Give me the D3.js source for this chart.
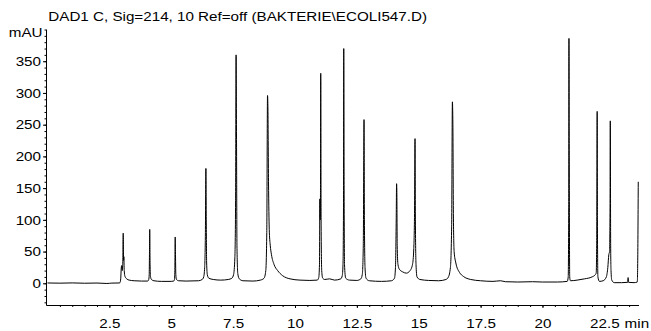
<html>
<head>
<meta charset="UTF-8">
<title>DAD1 C chromatogram</title>
<script src="https://cdn.jsdelivr.net/npm/d3@7/dist/d3.min.js"></script>
<style>
  body { margin: 0; background: #fff; }
  text { font-family: "Liberation Sans", Arial, Helvetica, sans-serif; fill: #000; }
</style>
</head>
<body>
<svg id="chart" width="651" height="331"></svg>
<script>
//-----------------------------------------
// data: [retention time (min), signal (mAU)]
var title = "DAD1 C, Sig=214, 10 Ref=off (BAKTERIE\\ECOLI547.D)";
var yUnit = "mAU";
var xUnit = "min";
var xTicks = [2.5, 5, 7.5, 10, 12.5, 15, 17.5, 20, 22.5];
var yTicks = [0, 50, 100, 150, 200, 250, 300, 350];

var trace = [
    [0.00, 0.5], [0.5, 0.2], [1.0, 0.6], [1.5, 0.1], [2.0, 0.4], [2.4, -0.3], [2.6, 0.3], [2.9, 0.5],
    [2.93, 1], [2.96, 8], [2.98, 24], [3.0, 28], [3.02, 20], [3.04, 30], [3.06, 79], [3.075, 36], [3.085, 42],
    [3.1, 20], [3.13, 11], [3.2, 7], [3.3, 5], [3.5, 4], [3.8, 3.5], [4.05, 3.5],
    [4.09, 6], [4.11, 14], [4.12, 45], [4.13, 85], [4.145, 30], [4.16, 11], [4.2, 6], [4.3, 4], [4.6, 3], [5.0, 3], [5.1, 3.5],
    [5.13, 6], [5.145, 20], [5.16, 73], [5.17, 50], [5.185, 14], [5.21, 6], [5.3, 4], [5.6, 3.5], [6.1, 4], [6.25, 6],
    [6.31, 10], [6.35, 25], [6.38, 80], [6.40, 181], [6.415, 100], [6.43, 32], [6.46, 13], [6.52, 8], [6.7, 6], [7.0, 5], [7.3, 6], [7.45, 8],
    [7.52, 14], [7.57, 40], [7.60, 130], [7.62, 360], [7.635, 250], [7.655, 60], [7.69, 15], [7.75, 7], [7.9, 4], [8.3, 3.5], [8.6, 5], [8.75, 8],
    [8.82, 20], [8.86, 80], [8.89, 296], [8.905, 280], [8.93, 160], [8.96, 85], [9.0, 60], [9.05, 45], [9.15, 30], [9.3, 20], [9.5, 12],
    [9.8, 7], [10.2, 5], [10.6, 4.5], [10.9, 5],
    [10.96, 9], [10.99, 30], [11.005, 133], [11.02, 100], [11.03, 140], [11.04, 331], [11.055, 100], [11.08, 20], [11.12, 8],
    [11.2, 6], [11.4, 7], [11.6, 5], [11.85, 7],
    [11.91, 12], [11.94, 30], [11.96, 120], [11.97, 370], [11.985, 150], [12.0, 30], [12.05, 8], [12.2, 5], [12.5, 4.5], [12.66, 7],
    [12.72, 14], [12.76, 60], [12.79, 258], [12.805, 100], [12.83, 25], [12.87, 8], [13.0, 4], [13.5, 3], [13.9, 4],
    [14.02, 8], [14.06, 25], [14.09, 100], [14.105, 157], [14.115, 146], [14.13, 60], [14.16, 30], [14.22, 22], [14.35, 18],
    [14.5, 16], [14.65, 20], [14.75, 30],
    [14.8, 55], [14.83, 110], [14.85, 228], [14.865, 100], [14.89, 30], [14.93, 10], [15.05, 6], [15.4, 4.5], [15.8, 4], [16.1, 6], [16.2, 10],
    [16.28, 25], [16.33, 90], [16.36, 286], [16.38, 250], [16.40, 110], [16.43, 50], [16.5, 32], [16.65, 17], [16.8, 11], [17.1, 6],
    [17.5, 4], [18.0, 3], [18.3, 4], [18.5, 2.5], [19.0, 2], [19.6, 2.5], [20.0, 2], [20.6, 2], [21.0, 3],
    [21.04, 10], [21.06, 120], [21.07, 386], [21.08, 220], [21.1, 10], [21.13, 4], [21.4, 5], [21.7, 7], [22.0, 10], [22.12, 13],
    [22.17, 16], [22.19, 60], [22.21, 271], [22.22, 100], [22.24, 10], [22.3, 3], [22.45, 4], [22.58, 10], [22.64, 25], [22.68, 45], [22.71, 50],
    [22.73, 120], [22.74, 256], [22.755, 60], [22.77, 20], [22.8, 5], [22.9, 1], [23.2, 1], [23.44, 1.5], [23.46, 9], [23.48, 1.5],
    [23.7, 1], [23.83, 2],
    [23.85, 40], [23.87, 160]
];

//-----------------------------------------
var svg = d3.select("#chart");
var sx = 1.17;   // the original glyphs are wider than Liberation Sans

var x = d3.scaleLinear().domain([0, 23.9]).range([47.5, 639]);
var y = d3.scaleLinear().domain([-35, 400]).range([305.5, 29.5]);

function asIs(d) {
    return String(d);
}

// minor ticks
svg.append("g")
        .attr("transform", "translate(46,0)")
        .call(d3.axisLeft(y).tickValues(d3.range(-30, 401, 10)).tickFormat("").tickSize(1.5))
        .call(function (g) { g.select(".domain").remove(); });
svg.append("g")
        .attr("transform", "translate(0,305)")
        .call(d3.axisBottom(x).tickValues(d3.range(0.5, 23.9, 0.5)).tickFormat("").tickSize(2))
        .call(function (g) { g.select(".domain").remove(); });

// major ticks + labels
var yAxis = svg.append("g")
        .attr("transform", "translate(46,0)")
        .call(d3.axisLeft(y).tickValues(yTicks).tickFormat(asIs).tickSize(3).tickPadding(2))
        .call(function (g) { g.select(".domain").remove(); });
yAxis.selectAll("text")
        .attr("font-size", 13).attr("font-family", null)
        .attr("x", -5 / sx)
        .attr("transform", "scale(" + sx + ",1)");

var xAxis = svg.append("g")
        .attr("transform", "translate(0,305)")
        .call(d3.axisBottom(x).tickValues(xTicks).tickFormat(asIs).tickSize(3))
        .call(function (g) { g.select(".domain").remove(); });
xAxis.selectAll("text")
        .attr("font-size", 13).attr("font-family", null)
        .attr("y", 23).attr("dy", null)
        .attr("transform", "scale(" + sx + ",1)");

// "min" after the last label
var lastLabel = xAxis.selectAll("text").nodes().pop();
var lastW = lastLabel.getComputedTextLength() * sx;
svg.append("text")
        .attr("x", (x(xTicks[xTicks.length - 1]) + lastW / 2 + 5.5) / sx)
        .attr("y", 328)
        .attr("font-size", 13)
        .attr("transform", "scale(" + sx + ",1)")
        .text(xUnit);

// axis lines
svg.append("line")
        .attr("x1", 46.5).attr("x2", 46.5)
        .attr("y1", y(400)).attr("y2", y(-35))
        .attr("stroke", "#000");
svg.append("line")
        .attr("x1", 46.5).attr("x2", 639)
        .attr("y1", 305.5).attr("y2", 305.5)
        .attr("stroke", "#000");

// unit + title
svg.append("text")
        .attr("x", 42.5 / sx).attr("y", 37.5)
        .attr("text-anchor", "end")
        .attr("font-size", 13)
        .attr("transform", "scale(" + sx + ",1)")
        .text(yUnit);
svg.append("text")
        .attr("x", 48.3 / sx).attr("y", 20.7)
        .attr("font-size", 13)
        .attr("transform", "scale(" + sx + ",1)")
        .text(title);

// signal
var line = d3.line()
        .x(function (d) { return x(d[0]); })
        .y(function (d) { return y(d[1]); })
        .curve(d3.curveMonotoneX);

svg.append("path")
        .datum(trace)
        .attr("fill", "none")
        .attr("stroke", "#000")
        .attr("stroke-width", 1)
        .attr("d", line);
</script>
</body>
</html>
